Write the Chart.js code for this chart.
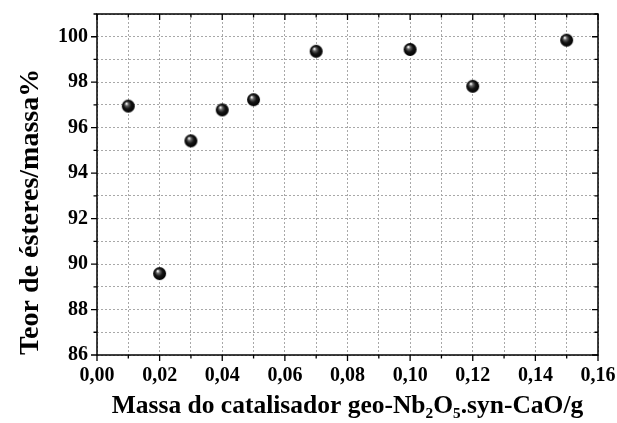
<!DOCTYPE html>
<html>
<head>
<meta charset="utf-8">
<script src="https://cdn.jsdelivr.net/npm/chart.js@4"></script>
<style>
  html, body { margin: 0; padding: 0; background: #fff; }
  #wrap { width: 617px; height: 423px; }
</style>
</head>
<body>
<div id="wrap"><canvas id="grafico" width="617" height="423"></canvas></div>
<script>
// dados
const massas = [0.01, 0.02, 0.03, 0.04, 0.05, 0.07, 0.10, 0.12, 0.15];
const teores = [96.95, 89.58, 95.42, 96.78, 97.23, 99.36, 99.44, 97.82, 99.85];

const xMin = 0, xMax = 0.16, xStep = 0.01;
const yMin = 86, yMax = 101, yStep = 1;

const fonte = "'Liberation Serif', 'Times New Roman', 'DejaVu Serif', serif";

// esfera preta para os pontos
function makeSphere(r) {
    const c = document.createElement('canvas');
    c.width = r * 2 + 2;
    c.height = r * 2 + 2;
    const g = c.getContext('2d');
    const cx = r + 1, cy = r + 1;
    const grad = g.createRadialGradient(cx - r * 0.3, cy - r * 0.4, 0.5, cx, cy, r);
    grad.addColorStop(0, '#f4f4f4');
    grad.addColorStop(0.22, '#666');
    grad.addColorStop(0.55, '#151515');
    grad.addColorStop(1, '#000');
    g.fillStyle = grad;
    g.beginPath();
    g.arc(cx, cy, r, 0, Math.PI * 2);
    g.fill();
    return c;
}
const esfera = makeSphere(6.5);

// moldura e ticks nos quatro lados (maiores e menores)
const moldura = {
    id: 'moldura',
    afterDraw(chart) {
        const ctx = chart.ctx;
        const a = chart.chartArea;
        const xs = chart.scales.x, ys = chart.scales.y;
        ctx.save();
        ctx.strokeStyle = '#000';
        ctx.lineWidth = 1.5;
        ctx.strokeRect(a.left, a.top, a.right - a.left, a.bottom - a.top);
        ctx.lineWidth = 1.3;
        ctx.beginPath();
        xs.ticks.forEach((t, i) => {
            const px = xs.getPixelForValue(t.value);
            const len = (i % 2 === 0) ? 6 : 3.5;
            ctx.moveTo(px, a.bottom); ctx.lineTo(px, a.bottom + len);
            ctx.moveTo(px, a.top); ctx.lineTo(px, a.top + len);
        });
        ys.ticks.forEach((t, i) => {
            const py = ys.getPixelForValue(t.value);
            const len = (i % 2 === 0) ? 6 : 3.5;
            ctx.moveTo(a.left, py); ctx.lineTo(a.left - len, py);
            ctx.moveTo(a.right, py); ctx.lineTo(a.right - len, py);
        });
        ctx.stroke();
        ctx.restore();
    }
};

const ctx = document.getElementById('grafico').getContext('2d');
new Chart(ctx, {
    type: 'scatter',
    data: {
        datasets: [{
            label: 'Teor de ésteres',
            data: massas.map((m, i) => ({ x: m, y: teores[i] })),
            pointStyle: esfera,
            pointRadius: 6.5,
            backgroundColor: '#000',
            borderColor: '#000'
        }]
    },
    options: {
        responsive: false,
        animation: false,
        layout: { padding: { top: 14, right: 19, left: 0, bottom: 0 } },
        plugins: {
            legend: { display: false },
            tooltip: { enabled: false }
        },
        scales: {
            x: {
                type: 'linear',
                min: xMin,
                max: xMax,
                afterFit: (s) => { s.height = 68; s.paddingLeft = 0; s.paddingRight = 0; },
                grid: {
                    color: '#a8a8a8',
                    lineWidth: 1,
                    drawTicks: false
                },
                border: { display: false, dash: [2, 2] },
                ticks: {
                    stepSize: xStep,
                    padding: 9,
                    color: '#000',
                    maxRotation: 0,
                    autoSkip: false,
                    font: { family: fonte, size: 20, weight: 'bold' },
                    callback: (v, i) => (i % 2 === 0) ? Number(v).toFixed(2).replace('.', ',') : ''
                },
                title: {
                    display: true,
                    text: 'Massa do catalisador geo-Nb₂O₅.syn-CaO/g',
                    color: '#000',
                    font: { family: fonte, size: 25.5, weight: 'bold' },
                    padding: { top: 0, bottom: 1 }
                }
            },
            y: {
                min: yMin,
                max: yMax,
                afterFit: (s) => { s.width = 97; s.paddingTop = 0; s.paddingBottom = 0; },
                grid: {
                    color: '#a8a8a8',
                    lineWidth: 1,
                    drawTicks: false
                },
                border: { display: false, dash: [2, 2] },
                ticks: {
                    stepSize: yStep,
                    padding: 9,
                    color: '#000',
                    autoSkip: false,
                    font: { family: fonte, size: 20, weight: 'bold' },
                    callback: (v) => (v % 2 === 0) ? String(v) : ''
                },
                title: {
                    display: true,
                    align: 'start',
                    text: 'Teor de ésteres/massa%',
                    color: '#000',
                    font: { family: fonte, size: 28, weight: 'bold' },
                    padding: { top: 14, bottom: 0 }
                }
            }
        }
    },
    plugins: [moldura]
});
</script>
</body>
</html>
